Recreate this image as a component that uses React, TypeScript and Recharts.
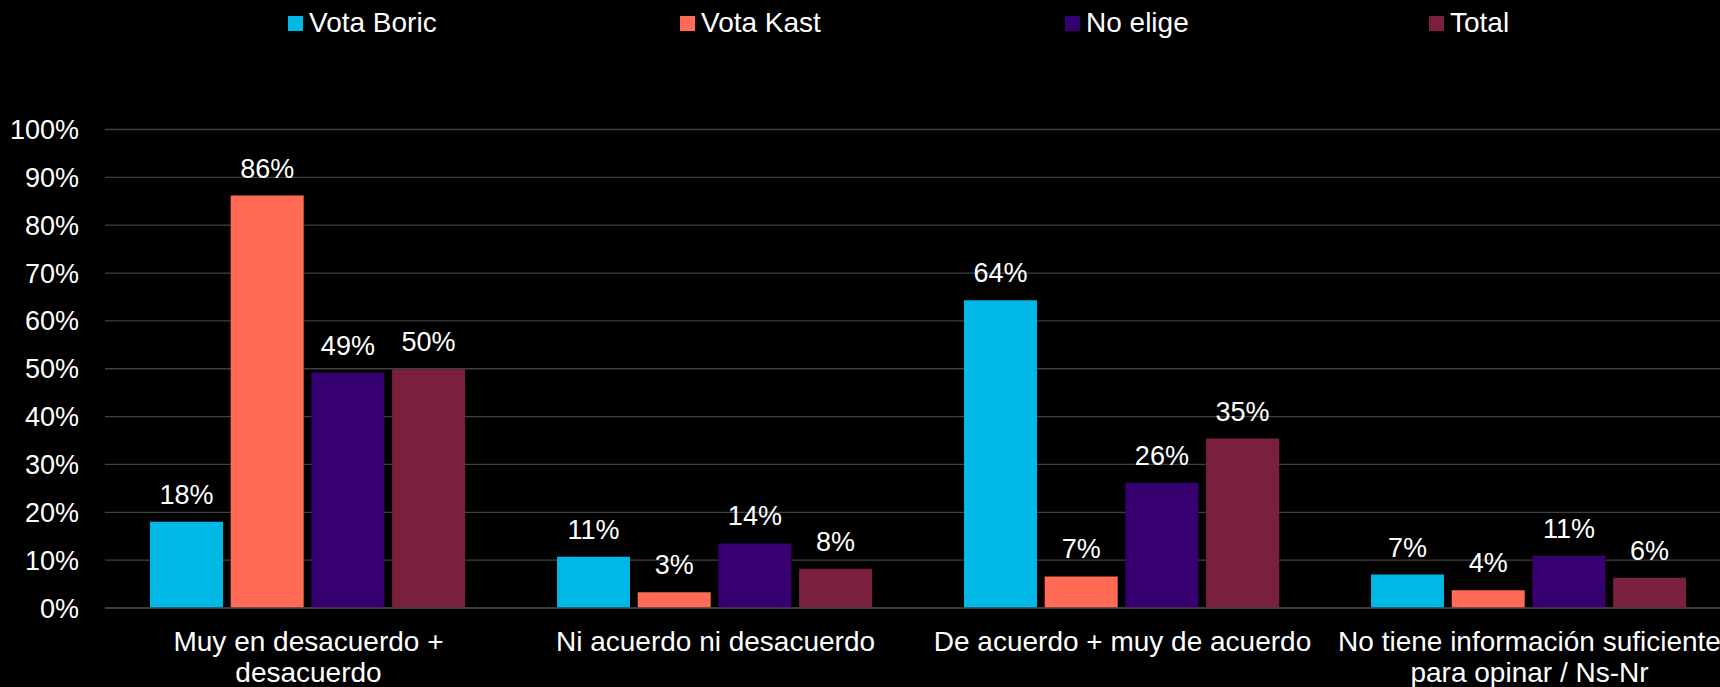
import { BarChart, Bar, XAxis, YAxis, CartesianGrid, LabelList } from "recharts";

// categories on the x axis ("\n" marks the line break used in the picture)
const CATEGORIES = [
  "Muy en desacuerdo +\ndesacuerdo",
  "Ni acuerdo ni desacuerdo",
  "De acuerdo + muy de acuerdo",
  "No tiene información suficiente\npara opinar / Ns-Nr",
];

const VOTA_BORIC = [18.0, 10.7, 64.3, 7.0];
const VOTA_KAST = [86.2, 3.3, 6.6, 3.7];
const NO_ELIGE = [49.2, 13.5, 26.2, 10.9];
const TOTAL = [49.9, 8.2, 35.4, 6.3];

const Y_TICKS = [0, 10, 20, 30, 40, 50, 60, 70, 80, 90, 100];

const SERIES = [
  { key: "boric", name: "Vota Boric", color: "#00B8E5", values: VOTA_BORIC },
  { key: "kast", name: "Vota Kast", color: "#FF6B55", values: VOTA_KAST },
  { key: "noelige", name: "No elige", color: "#370071", values: NO_ELIGE },
  { key: "total", name: "Total", color: "#7A1F3D", values: TOTAL },
];

// left edge of each legend entry
const LEGEND_X = [288, 680, 1065, 1429];

const FONT = "'Liberation Sans', Arial, sans-serif";

const data = CATEGORIES.map((name, i) => {
  const row: any = { name };
  SERIES.forEach((s) => (row[s.key] = s.values[i]));
  return row;
});

const CategoryTick = ({ x, y, payload }: any) => {
  const lines = String(payload.value).split("\n");
  return (
    <text x={x} y={y + 35} textAnchor="middle" fill="#ffffff" fontSize={28} fontFamily={FONT}>
      {lines.map((l, i) => (
        <tspan key={i} x={x} dy={i === 0 ? 0 : 31}>
          {l}
        </tspan>
      ))}
    </text>
  );
};

const ValueLabel = ({ x, y, width, value }: any) => (
  <text x={x + width / 2} y={y - 18} textAnchor="middle" fill="#ffffff" fontSize={27} fontFamily={FONT}>
    {Math.round(value)}%
  </text>
);

export default function App() {
  return (
    <div style={{ position: "fixed", inset: 0, background: "#000", overflow: "hidden", fontFamily: FONT }}>
      {SERIES.map((s, i) => (
        <div
          key={s.key}
          style={{ position: "absolute", left: LEGEND_X[i], top: 7, display: "flex", alignItems: "center", color: "#fff", fontSize: 28, lineHeight: "32px" }}
        >
          <span style={{ width: 15, height: 15, background: s.color, display: "inline-block", marginRight: 6 }} />
          {s.name}
        </div>
      ))}
      <BarChart
        width={1733}
        height={687}
        data={data}
        margin={{ top: 129.5, right: 0, bottom: 0, left: 0 }}
        barCategoryGap={45}
        barGap={7.7}
      >
        <CartesianGrid vertical={false} stroke="#404040" strokeWidth={1.3} />
        <XAxis
          dataKey="name"
          interval={0}
          height={79}
          tickLine={false}
          axisLine={{ stroke: "#404040", strokeWidth: 1.5 }}
          tick={<CategoryTick />}
        />
        <YAxis
          width={105}
          domain={[0, 100]}
          ticks={Y_TICKS}
          tickFormatter={(v) => `${v}%`}
          axisLine={false}
          tickLine={false}
          tickSize={0}
          tickMargin={26}
          tick={{ fill: "#ffffff", fontSize: 27, fontFamily: FONT }}
        />
        {SERIES.map((s) => (
          <Bar key={s.key} dataKey={s.key} name={s.name} fill={s.color} isAnimationActive={false}>
            <LabelList dataKey={s.key} content={<ValueLabel />} />
          </Bar>
        ))}
      </BarChart>
    </div>
  );
}
